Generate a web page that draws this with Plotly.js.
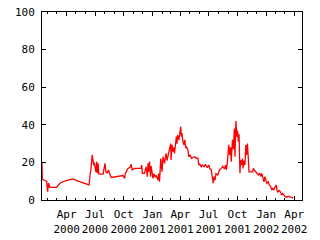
<!DOCTYPE html>
<html><head><meta charset="utf-8">
<script src="https://cdn.plot.ly/plotly-3.0.1.min.js"></script>
<style>html,body{margin:0;padding:0;background:#fff}#chart{width:320px;height:240px}</style>
</head><body><div id="chart"></div>
<script>
const dates = ["2000-01-13","2000-01-14","2000-01-20","2000-01-28","2000-01-31","2000-02-03","2000-02-07","2000-02-29","2000-03-10","2000-03-26","2000-04-11","2000-04-22","2000-05-03","2000-05-13","2000-05-24","2000-06-03","2000-06-12","2000-06-15","2000-06-18","2000-06-22","2000-06-25","2000-06-27","2000-06-28","2000-07-01","2000-07-04","2000-07-06","2000-07-08","2000-07-11","2000-07-13","2000-07-17","2000-07-27","2000-08-02","2000-08-05","2000-08-09","2000-08-13","2000-08-18","2000-08-22","2000-09-29","2000-10-04","2000-10-06","2000-10-15","2000-10-22","2000-10-25","2000-10-28","2000-11-05","2000-11-26","2000-11-28","2000-11-30","2000-12-07","2000-12-12","2000-12-16","2000-12-18","2000-12-20","2000-12-23","2000-12-26","2000-12-28","2001-01-03","2001-01-06","2001-01-10","2001-01-13","2001-01-19","2001-01-21","2001-01-24","2001-01-28","2001-02-01","2001-02-04","2001-02-09","2001-02-14","2001-02-17","2001-02-22","2001-02-25","2001-03-01","2001-03-02","2001-03-05","2001-03-08","2001-03-11","2001-03-13","2001-03-16","2001-03-19","2001-03-21","2001-03-23","2001-03-27","2001-03-31","2001-04-02","2001-04-04","2001-04-06","2001-04-09","2001-04-12","2001-04-15","2001-04-18","2001-04-20","2001-04-25","2001-04-28","2001-05-02","2001-05-06","2001-05-17","2001-05-22","2001-05-27","2001-05-30","2001-06-02","2001-06-07","2001-06-10","2001-06-16","2001-06-20","2001-06-26","2001-07-01","2001-07-04","2001-07-09","2001-07-12","2001-07-15","2001-07-18","2001-07-21","2001-07-24","2001-07-30","2001-08-04","2001-08-10","2001-08-15","2001-08-20","2001-08-24","2001-08-26","2001-08-29","2001-09-03","2001-09-06","2001-09-09","2001-09-11","2001-09-15","2001-09-18","2001-09-21","2001-09-23","2001-09-24","2001-09-26","2001-09-29","2001-10-01","2001-10-04","2001-10-06","2001-10-09","2001-10-11","2001-10-14","2001-10-17","2001-10-19","2001-10-22","2001-10-25","2001-10-28","2001-10-30","2001-11-02","2001-11-05","2001-11-07","2001-11-19","2001-11-21","2001-11-24","2001-11-30","2001-12-04","2001-12-07","2001-12-12","2001-12-15","2001-12-18","2001-12-21","2001-12-25","2001-12-28","2002-01-01","2002-01-03","2002-01-08","2002-01-11","2002-01-16","2002-01-19","2002-01-22","2002-01-26","2002-01-30","2002-02-02","2002-02-04","2002-02-06","2002-02-09","2002-02-12","2002-02-15","2002-02-18","2002-02-20","2002-02-23","2002-02-27","2002-03-03","2002-03-08","2002-03-13","2002-03-19","2002-03-24","2002-03-29"];
const values = [20,11,10.5,10,4.4,9,6.7,6.7,8.9,10.1,10.8,11.2,10.3,9.7,9.2,8.5,8,13.3,16.3,24,21.3,18.6,20,17,15,20.4,14.2,19.5,14,13.8,13.8,19.5,15,14.2,16,13.5,12,13,11.5,14,16.8,17.5,19,16,16.8,16.8,18.6,14.2,14.2,17.7,12.4,19.5,15,20.4,12.4,18,11.5,14,12.4,13,10.6,14,9.7,22,15,23,19.5,24.8,21,24.8,26.6,30,21.3,29.3,25.7,28,24.8,31.9,33.7,30,34.6,32,39,39,33.7,35.6,31,29.3,32,27.5,28.4,26.6,23,24,22.2,23,22.2,22.2,18.6,19,17.7,18.6,17.7,19,17.2,18.6,16.8,16,12.4,8.9,12.4,10.6,14,13.3,16,16.8,18,16.5,18.6,16,19,29.3,24,28,20.4,32,27,38,23,32.8,42,33.7,37,31,35,14.2,21.3,18.6,22,16.8,21,18.6,29.3,24,30,21.3,15,15,16.8,16,15,14.2,13.3,14.2,12.4,14.2,12.4,9.7,12.4,9.7,8.9,9.7,8,7.1,5.3,6.2,5.3,7.1,8,6.2,4.4,4.4,5.3,4.4,3.5,2.7,3.5,2.7,1.8,1.5,2,1.5,1.5,0.9];
const tickDates = ["2000-04-01","2000-07-01","2000-10-01","2001-01-01","2001-04-01","2001-07-01","2001-10-01","2002-01-01","2002-04-01"];
const tickLabels = ["Apr<br>2000","Jul<br>2000","Oct<br>2000","Jan<br>2001","Apr<br>2001","Jul<br>2001","Oct<br>2001","Jan<br>2002","Apr<br>2002"];
const yTicks = [0,20,40,60,80,100];

const font = {family: "DejaVu Sans Mono, monospace", size: 11, color: "#000"};
Plotly.newPlot("chart", [{
  x: dates, y: values, type: "scatter", mode: "lines",
  line: {color: "#ff0000", width: 1.3}, hoverinfo: "skip"
}], {
  width: 320, height: 240,
  margin: {l: 42, r: 18, t: 12, b: 40},
  paper_bgcolor: "#fff", plot_bgcolor: "#fff",
  showlegend: false,
  font: font,
  xaxis: {
    type: "date", range: ["2000-01-13", "2002-04-26"],
    tickmode: "array", tickvals: tickDates, ticktext: tickLabels, tickangle: 0,
    ticks: "inside", ticklen: 4, tickcolor: "#000", tickwidth: 1,
    minor: {ticks: "inside", ticklen: 2, dtick: "M1", tick0: "2000-01-01", tickcolor: "#000"},
    showline: true, linecolor: "#000", linewidth: 1, mirror: "allticks",
    showgrid: false, zeroline: false, tickfont: font, ticklabelstandoff: 4
  },
  yaxis: {
    range: [0, 100], tickmode: "array", tickvals: yTicks,
    ticks: "inside", ticklen: 4, tickcolor: "#000", tickwidth: 1,
    showline: true, linecolor: "#000", linewidth: 1, mirror: "allticks",
    showgrid: false, zeroline: false, tickfont: font, ticklabelstandoff: 4
  }
}, {staticPlot: true});
</script></body></html>
